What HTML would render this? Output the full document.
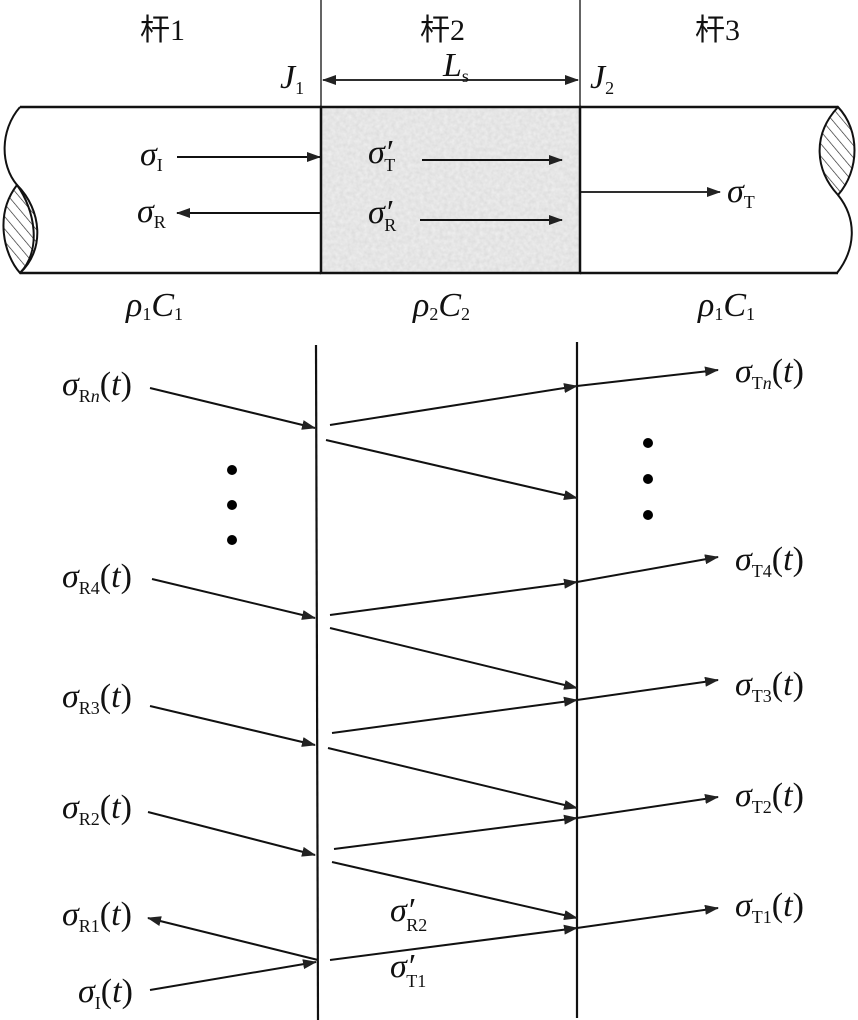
<!DOCTYPE html>
<html><head><meta charset="utf-8"><style>
html,body{margin:0;padding:0;background:#fff}
svg{display:block}
text{font-family:"Liberation Serif","Noto Serif CJK SC",serif;fill:#111}
.s{font-style:italic;font-size:34px}
.sub{font-size:18px;font-style:normal}
.cn{font-family:"Liberation Serif","Noto Sans CJK SC",sans-serif;font-size:30px}
</style></head><body>
<svg width="858" height="1020" viewBox="0 0 858 1020" xmlns="http://www.w3.org/2000/svg">
<defs>
<marker id="a" markerWidth="14" markerHeight="10" refX="13" refY="5" orient="auto" markerUnits="userSpaceOnUse"><path d="M0,0 L14,5 L0,10 z" fill="#222"/></marker>
<marker id="b" markerWidth="14" markerHeight="10" refX="1" refY="5" orient="auto" markerUnits="userSpaceOnUse"><path d="M14,0 L0,5 L14,10 z" fill="#222"/></marker>
<pattern id="h" width="8" height="8" patternUnits="userSpaceOnUse" patternTransform="rotate(-40)"><line x1="0" y1="0" x2="0" y2="8" stroke="#222" stroke-width="1.3"/></pattern>
<filter id="n" x="0" y="0" width="1" height="1"><feTurbulence type="fractalNoise" baseFrequency="0.25" numOctaves="2" seed="3"/><feColorMatrix values="0 0 0 0 0.86 0 0 0 0 0.86 0 0 0 0 0.86 0 0 0 -1.2 1.1"/></filter>
</defs>
<g stroke="#111" fill="none">
<line x1="321" y1="0" x2="321" y2="107" stroke-width="1.3"/>
<line x1="580" y1="0" x2="580" y2="107" stroke-width="1.3"/>
<rect x="321" y="107" width="259" height="166" fill="#dcdcdc" stroke="none"/>
<rect x="321" y="107" width="259" height="166" filter="url(#n)" stroke="none" fill="#ddd"/>
<rect x="321" y="107" width="259" height="166" stroke-width="2.5"/>
<line x1="20" y1="107" x2="321" y2="107" stroke-width="2.5"/>
<line x1="20" y1="273" x2="321" y2="273" stroke-width="2.5"/>
<line x1="580" y1="107" x2="838" y2="107" stroke-width="2.5"/>
<line x1="580" y1="273" x2="838" y2="273" stroke-width="2.5"/>
<path d="M17,185 C-6,215 4,255 20,273 C45,250 42,210 17,185 z" fill="url(#h)" stroke-width="2"/>
<path d="M20,107 C0,130 0,165 17,185 C35,210 42,250 20,273" stroke-width="2"/>
<path d="M838,107 C812,135 815,170 838,195 C860,170 860,130 838,107 z" fill="url(#h)" stroke-width="2"/>
<path d="M838,195 C858,220 855,250 837,273" stroke-width="2"/>
<line x1="323" y1="80" x2="578" y2="80" stroke-width="1.8" marker-start="url(#b)" marker-end="url(#a)"/>
<line x1="177" y1="157" x2="320" y2="157" stroke-width="2" marker-end="url(#a)"/>
<line x1="320" y1="213" x2="177" y2="213" stroke-width="2" marker-end="url(#a)"/>
<line x1="422" y1="160" x2="562" y2="160" stroke-width="2" marker-end="url(#a)"/>
<line x1="420" y1="220" x2="562" y2="220" stroke-width="2" marker-end="url(#a)"/>
<line x1="581" y1="192" x2="720" y2="192" stroke-width="1.8" marker-end="url(#a)"/>
<line x1="316" y1="345" x2="318" y2="1020" stroke-width="2.2"/>
<line x1="577" y1="342" x2="577" y2="1018" stroke-width="2.2"/>
<g stroke-width="2" marker-end="url(#a)">
<line x1="150" y1="388" x2="315" y2="428"/>
<line x1="330" y1="425" x2="577" y2="386"/>
<line x1="577" y1="386" x2="718" y2="370"/>
<line x1="326" y1="440" x2="577" y2="498"/>
<line x1="152" y1="579" x2="315" y2="618"/>
<line x1="330" y1="615" x2="577" y2="582"/>
<line x1="577" y1="582" x2="718" y2="557"/>
<line x1="330" y1="628" x2="577" y2="688"/>
<line x1="150" y1="706" x2="315" y2="745"/>
<line x1="332" y1="733" x2="577" y2="700"/>
<line x1="577" y1="700" x2="718" y2="680"/>
<line x1="328" y1="748" x2="577" y2="808"/>
<line x1="148" y1="812" x2="315" y2="855"/>
<line x1="334" y1="849" x2="577" y2="818"/>
<line x1="577" y1="818" x2="718" y2="797"/>
<line x1="332" y1="862" x2="577" y2="918"/>
<line x1="318" y1="960" x2="148" y2="918"/>
<line x1="150" y1="990" x2="316" y2="962"/>
<line x1="330" y1="960" x2="577" y2="928"/>
<line x1="577" y1="928" x2="718" y2="908"/>
</g>
</g>
<g fill="#000">
<circle cx="232" cy="470" r="5"/><circle cx="232" cy="505" r="5"/><circle cx="232" cy="540" r="5"/>
<circle cx="648" cy="443" r="5"/><circle cx="648" cy="479" r="5"/><circle cx="648" cy="515" r="5"/>
</g>
<text class="cn" x="140" y="40">杆1</text>
<text class="cn" x="420" y="40">杆2</text>
<text class="cn" x="695" y="40">杆3</text>
<text class="s" x="280" y="88">J<tspan class="sub" dy="6">1</tspan></text>
<text class="s" x="443" y="76">L<tspan class="sub" dy="6">s</tspan></text>
<text class="s" x="590" y="88">J<tspan class="sub" dy="6">2</tspan></text>
<text class="s" x="140" y="165">σ<tspan class="sub" dy="6">I</tspan></text>
<text class="s" x="137" y="222">σ<tspan class="sub" dy="6">R</tspan></text>
<text class="s" x="368" y="163">σ′<tspan class="sub" dy="8" dx="-8">T</tspan></text>
<text class="s" x="368" y="223">σ′<tspan class="sub" dy="8" dx="-8">R</tspan></text>
<text class="s" x="727" y="202">σ<tspan class="sub" dy="6">T</tspan></text>
<text class="s" x="126" y="316">ρ<tspan class="sub" dy="4">1</tspan><tspan dy="-4">C</tspan><tspan class="sub" dy="4">1</tspan></text>
<text class="s" x="413" y="316">ρ<tspan class="sub" dy="4">2</tspan><tspan dy="-4">C</tspan><tspan class="sub" dy="4">2</tspan></text>
<text class="s" x="698" y="316">ρ<tspan class="sub" dy="4">1</tspan><tspan dy="-4">C</tspan><tspan class="sub" dy="4">1</tspan></text>
<text class="s" x="62" y="395">σ<tspan class="sub" dy="7">R<tspan font-style="italic">n</tspan></tspan><tspan dy="-7" font-style="normal">(</tspan>t<tspan font-style="normal">)</tspan></text>
<text class="s" x="62" y="587">σ<tspan class="sub" dy="7">R4</tspan><tspan dy="-7" font-style="normal">(</tspan>t<tspan font-style="normal">)</tspan></text>
<text class="s" x="62" y="707">σ<tspan class="sub" dy="7">R3</tspan><tspan dy="-7" font-style="normal">(</tspan>t<tspan font-style="normal">)</tspan></text>
<text class="s" x="62" y="818">σ<tspan class="sub" dy="7">R2</tspan><tspan dy="-7" font-style="normal">(</tspan>t<tspan font-style="normal">)</tspan></text>
<text class="s" x="62" y="925">σ<tspan class="sub" dy="7">R1</tspan><tspan dy="-7" font-style="normal">(</tspan>t<tspan font-style="normal">)</tspan></text>
<text class="s" x="78" y="1002">σ<tspan class="sub" dy="7">I</tspan><tspan dy="-7" font-style="normal">(</tspan>t<tspan font-style="normal">)</tspan></text>
<text class="s" x="735" y="382">σ<tspan class="sub" dy="7">T<tspan font-style="italic">n</tspan></tspan><tspan dy="-7" font-style="normal">(</tspan>t<tspan font-style="normal">)</tspan></text>
<text class="s" x="735" y="570">σ<tspan class="sub" dy="7">T4</tspan><tspan dy="-7" font-style="normal">(</tspan>t<tspan font-style="normal">)</tspan></text>
<text class="s" x="735" y="695">σ<tspan class="sub" dy="7">T3</tspan><tspan dy="-7" font-style="normal">(</tspan>t<tspan font-style="normal">)</tspan></text>
<text class="s" x="735" y="806">σ<tspan class="sub" dy="7">T2</tspan><tspan dy="-7" font-style="normal">(</tspan>t<tspan font-style="normal">)</tspan></text>
<text class="s" x="735" y="916">σ<tspan class="sub" dy="7">T1</tspan><tspan dy="-7" font-style="normal">(</tspan>t<tspan font-style="normal">)</tspan></text>
<text class="s" x="390" y="921">σ′<tspan class="sub" dy="10" dx="-8">R2</tspan></text>
<text class="s" x="390" y="977">σ′<tspan class="sub" dy="10" dx="-8">T1</tspan></text>
</svg>
</body></html>
